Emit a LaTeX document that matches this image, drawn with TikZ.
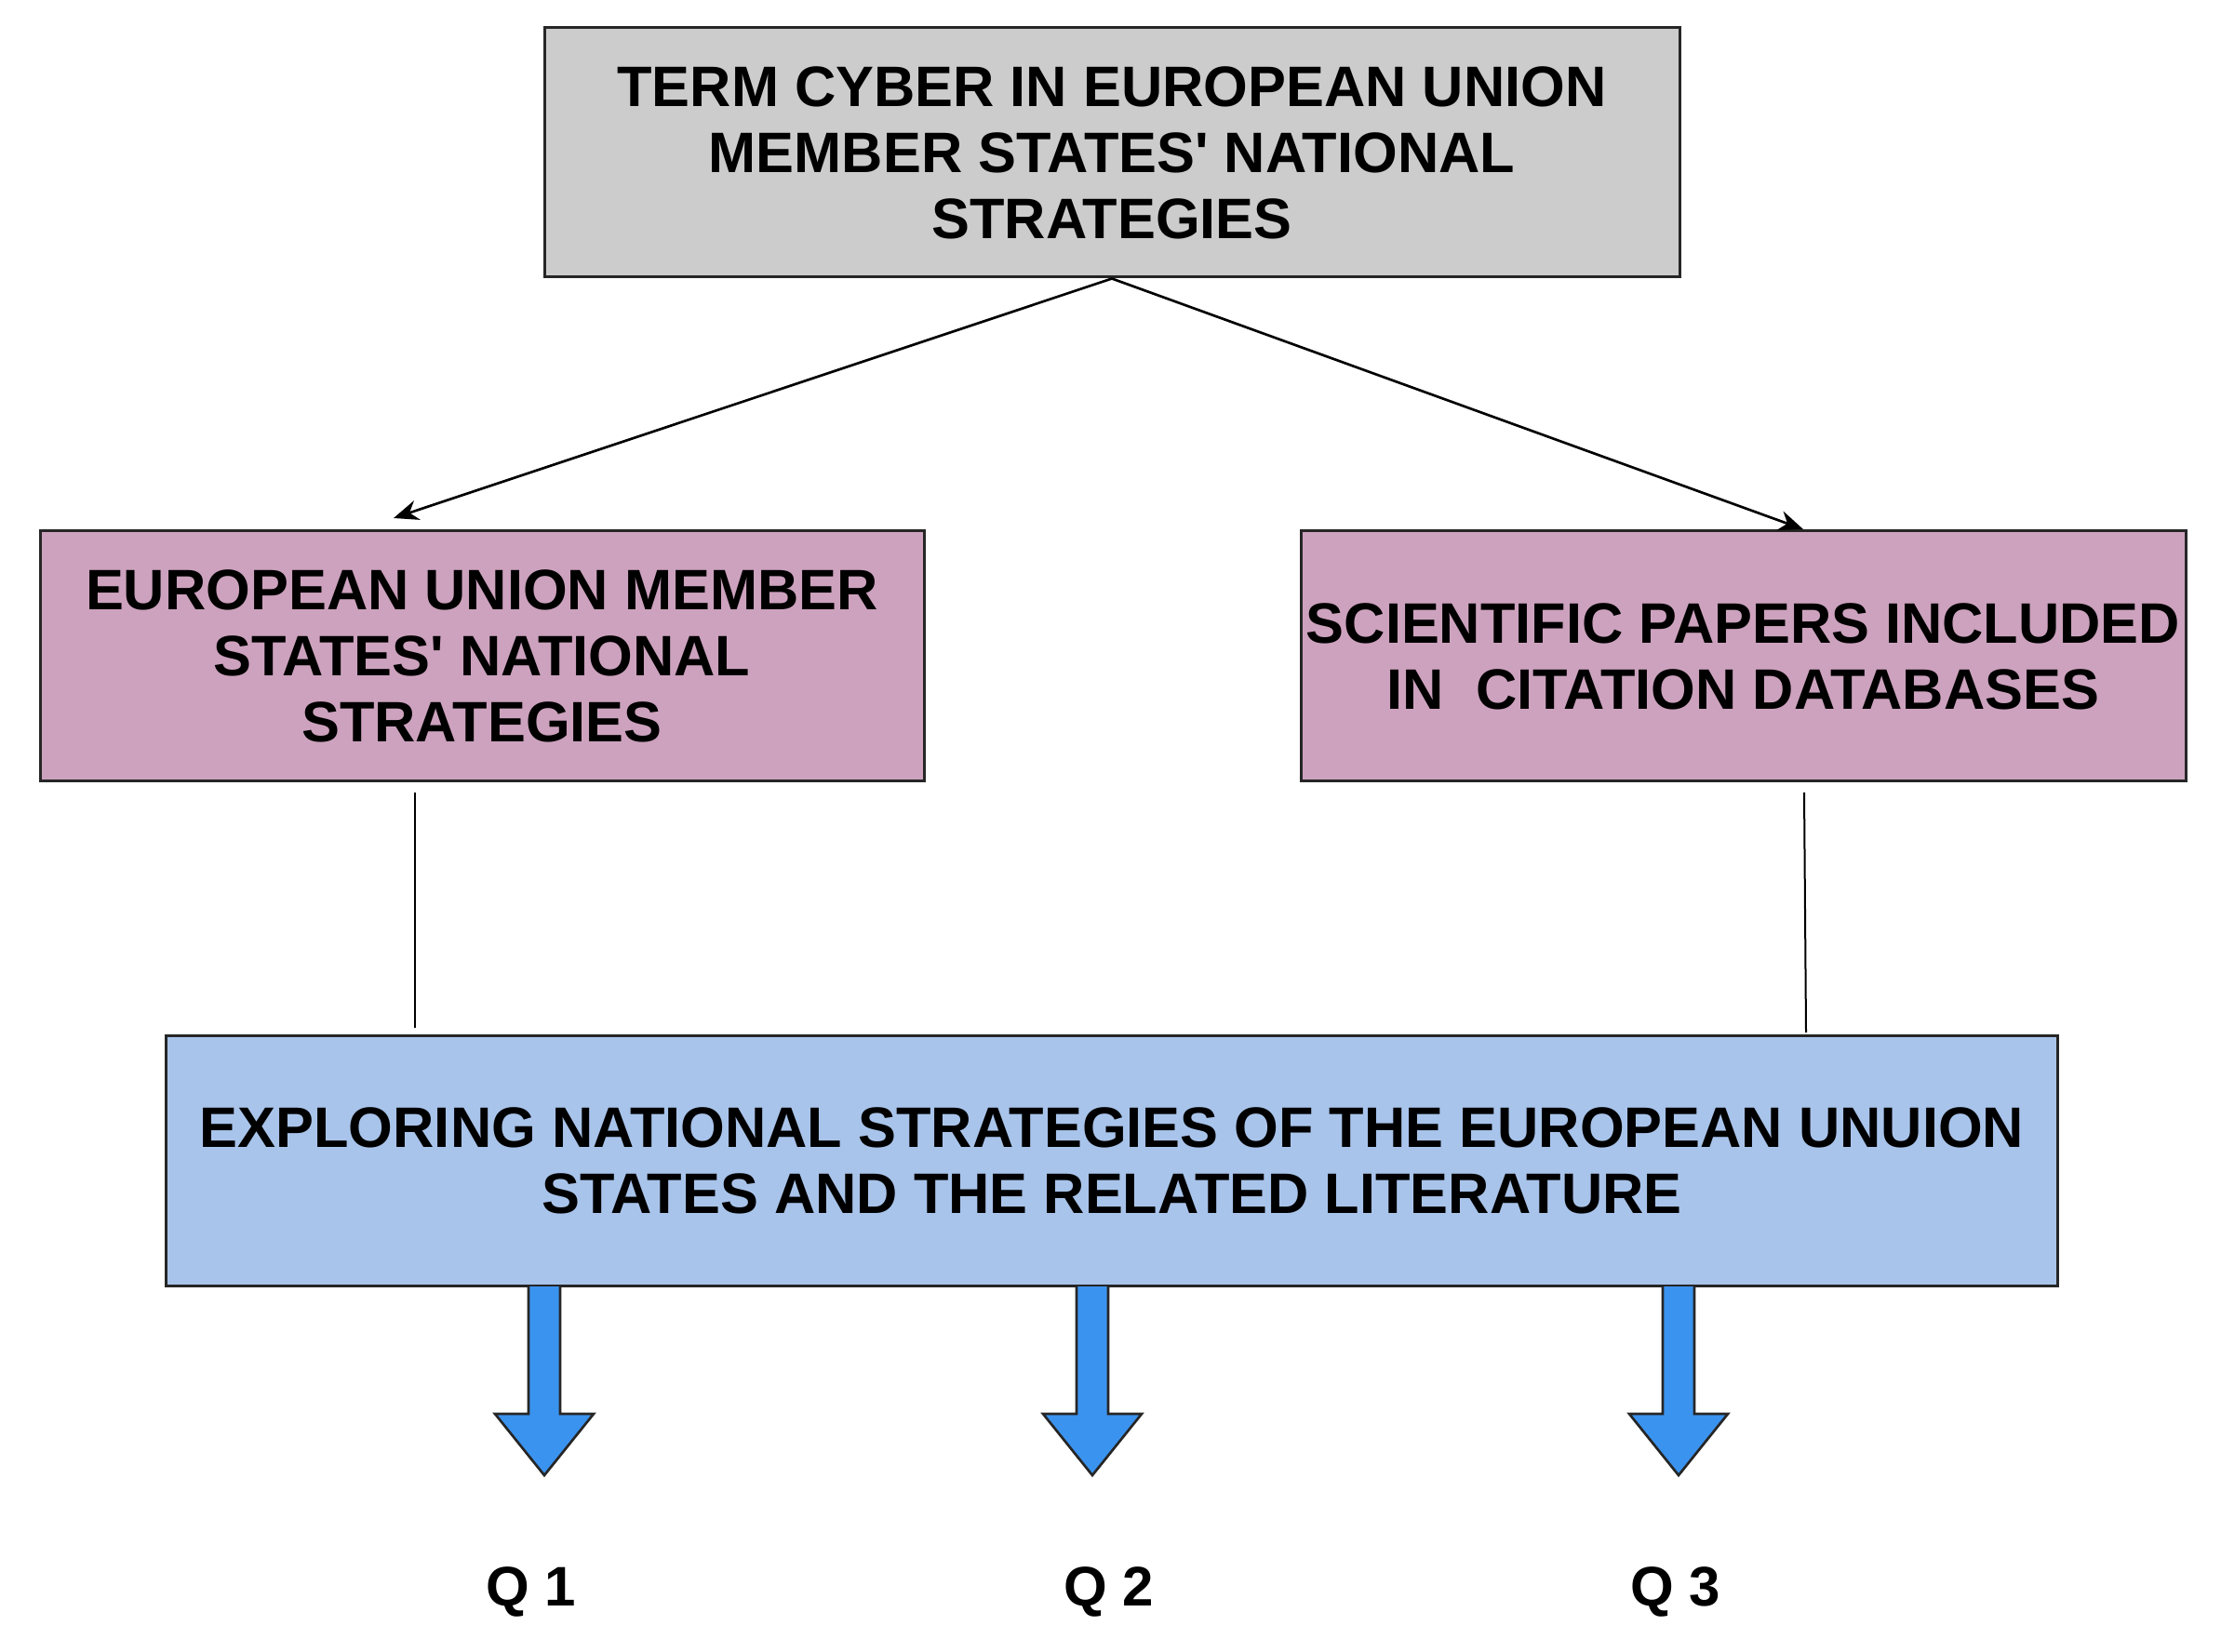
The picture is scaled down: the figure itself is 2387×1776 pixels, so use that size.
\documentclass[tikz,border=0pt]{standalone}
\usepackage{fontspec}
\setmainfont{Liberation Sans}
\usetikzlibrary{arrows.meta}
\definecolor{greybox}{HTML}{CCCCCC}
\definecolor{pinkbox}{HTML}{CDA2BE}
\definecolor{bluebox}{HTML}{A9C4EB}
\definecolor{blockblue}{HTML}{3B93F0}
\begin{document}
\begin{tikzpicture}[x=0.3pt,y=-0.3pt,
  box/.style={draw=black!85,line width=0.9pt,align=center,inner sep=0pt,
    font=\fontsize{18.4}{21.3}\selectfont\bfseries},
  conn/.style={line width=0.8pt,-{Stealth[length=8pt,width=6.5pt]}},
  plain/.style={line width=0.6pt},
  blockarrow/.style={draw=black!85,line width=0.8pt,fill=blockblue,line join=miter},
  qlabel/.style={font=\fontsize{18}{21}\selectfont\bfseries}]
\useasboundingbox (0,0) rectangle (2387,1776);
\node[box,fill=greybox,minimum width=366pt,minimum height=80.4pt] (top) at (1195,164)
  {TERM CYBER IN EUROPEAN UNION\\MEMBER STATES\textquotesingle{} NATIONAL\\STRATEGIES};
\node[box,fill=pinkbox,minimum width=285pt,minimum height=80.7pt] (left) at (518,705.5)
  {EUROPEAN UNION MEMBER\\STATES\textquotesingle{} NATIONAL\\STRATEGIES};
\node[box,fill=pinkbox,minimum width=285.3pt,minimum height=80.7pt] (right) at (1873.5,705.5)
  {SCIENTIFIC PAPERS INCLUDED\\IN\ \ CITATION DATABASES};
\node[box,fill=bluebox,minimum width=610pt,minimum height=80.7pt] (bottom) at (1195,1248)
  {EXPLORING NATIONAL STRATEGIES OF THE EUROPEAN UNUION\\STATES AND THE RELATED LITERATURE};
\coordinate (lt) at (423,557);
\coordinate (rt) at (1938,569);
\draw[conn] (top.south) -- (lt);
\draw[conn] (top.south) -- (rt);
\coordinate (l1) at (446,852);
\coordinate (l2) at (446,1105);
\coordinate (r1) at (1939,852);
\coordinate (r2) at (1941,1110);
\draw[plain] (l1) -- (l2);
\draw[plain] (r1) -- (r2);
\foreach \n/\cx in {1/585,2/1174,3/1804}{
  \draw[blockarrow] (\cx-17,1383) -- (\cx-17,1520) -- (\cx-53,1520) -- (\cx,1586)
    -- (\cx+53,1520) -- (\cx+17,1520) -- (\cx+17,1383);
}
\node[qlabel] (q1) at (571,1711) {Q 1};
\node[qlabel] (q2) at (1192,1711) {Q 2};
\node[qlabel] (q3) at (1801,1711) {Q 3};
\end{tikzpicture}
\end{document}
